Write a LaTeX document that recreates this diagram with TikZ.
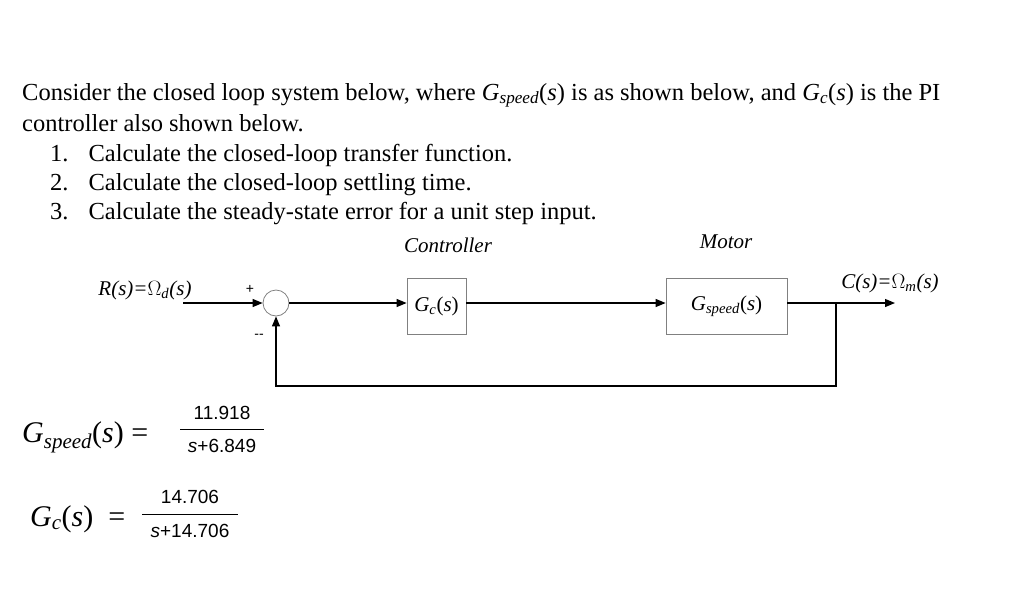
\documentclass[tikz,border=0pt]{standalone}
\usepackage{fontspec}
\setmainfont{Liberation Serif}
\newfontfamily\dsans{DejaVu Sans}
\newfontfamily\lsans{Liberation Sans}
\usetikzlibrary{arrows.meta}
\newcommand{\gsp}{\textit{G}\textsubscript{\textit{speed}}(\textit{s})}
\newcommand{\gcc}{\textit{G}\textsubscript{\textit{c}}(\textit{s})}
\begin{document}
\begin{tikzpicture}[x=1pt,y=-1pt,
  txt/.style={anchor=base west,inner sep=0,font=\fontsize{24.5}{28}\selectfont},
  lbl/.style={inner sep=0,font=\fontsize{21}{24}\selectfont\itshape},
  blk/.style={draw=gray,line width=0.8pt,minimum height=56pt,font=\fontsize{21}{24}\selectfont},
  sig/.style={line width=1.2pt,-{Triangle[length=10pt,width=8pt]}},
  num/.style={inner sep=0,font=\lsans\fontsize{19}{22}\selectfont},
  pm/.style={inner sep=0,font=\lsans\fontsize{14}{16}\selectfont}]
\useasboundingbox (0,0) rectangle (1024,611);
\node[txt] (t1) at (22,100) {Consider the closed loop system below, where \gsp{} is as shown below, and \gcc{} is the PI};
\node[txt] (t2) at (22,131) {controller also shown below.};
\node[txt] (n1) at (50,161) {1.\hspace{20pt}Calculate the closed-loop transfer function.};
\node[txt] (n2) at (50,190) {2.\hspace{20pt}Calculate the closed-loop settling time.};
\node[txt] (n3) at (50,219) {3.\hspace{20pt}Calculate the steady-state error for a unit step input.};
\node[lbl] (ctl) at (448,245) {Controller};
\node[lbl] (mot) at (726,242) {Motor};
\node[lbl] (rin) at (145,290) {R(s)=$\Omega$\textsubscript{d}(s)};
\node[lbl] (cout) at (890,283) {C(s)=$\Omega$\textsubscript{m}(s)};
\node[pm] (plus) at (250,289) {+};
\node[pm] (minus) at (259,336) {--};
\node[circle,draw=gray,line width=0.8pt,minimum size=26pt,inner sep=0] (sum) at (276,303) {};
\node[blk,minimum width=59pt] (gc) at (436.5,306) {\gcc};
\node[blk,minimum width=121pt] (gs) at (726.5,306) {\gsp};
\coordinate (in) at (183,303);
\coordinate (br) at (836,303);
\coordinate (out) at (895,303);
\coordinate (fb1) at (836,386);
\coordinate (fb2) at (276,386);
\draw[sig] (in) -- (sum.west);
\draw[sig] (sum.east) -- (sum.east -| gc.west);
\draw[sig] (gc.east |- sum) -- (gs.west |- sum);
\draw[sig] (gs.east |- sum) -- (out);
\draw[sig] (br) -- (fb1) -- (fb2) -- (sum.south);
\node[anchor=base west,inner sep=0,font=\fontsize{30}{34}\selectfont] (gsf) at (22,442) {\gsp\ =};
\node[num] (gsn) at (222,413) {11.918};
\node[num] (gsd) at (222,446) {\textit{s}+6.849};
\draw[line width=0.8pt] (180,429) -- (264,429);
\node[anchor=base west,inner sep=0,font=\fontsize{30}{34}\selectfont] (gcf) at (30,526) {\gcc\ \ =};
\node[num] (gcn) at (190,497) {14.706};
\node[num] (gcd) at (190,531) {\textit{s}+14.706};
\draw[line width=0.8pt] (142,514) -- (238,514);
\end{tikzpicture}
\end{document}
